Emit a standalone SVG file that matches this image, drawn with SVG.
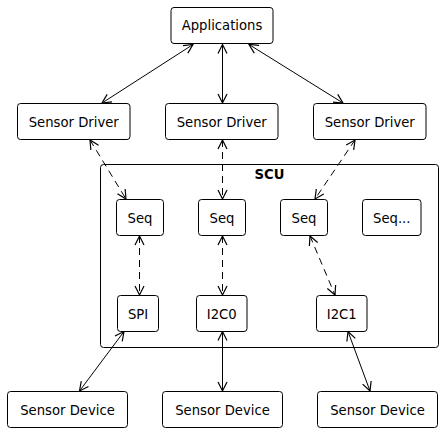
<svg xmlns="http://www.w3.org/2000/svg" width="443" height="432" viewBox="0 0 443 432">
<style>
rect{fill:#fff;stroke:#000;stroke-width:1}
text{font-family:"DejaVu Sans",sans-serif;font-size:13.2px;fill:#000;text-anchor:middle}
.b{font-weight:bold}
.c{stroke:#000;stroke-width:1;fill:none;marker-start:url(#a);marker-end:url(#a)}
.d{stroke-dasharray:7,5}
</style>
<defs>
<marker id="a" markerUnits="userSpaceOnUse" markerWidth="12" markerHeight="12" orient="auto-start-reverse" refX="0" refY="0" overflow="visible">
<path d="M-9,-4.5 L0,0 L-9,4.5" fill="none" stroke="#000" stroke-width="1.2"/>
</marker>
</defs>
<rect width="443" height="432" style="stroke:none"/>
<g id="scu"><rect x="100.5" y="164.5" width="338" height="183" rx="3"/><text class="b" x="269.5" y="179">SCU</text></g>
<g id="connectors">
<line class="c" x1="193" y1="44.5" x2="102" y2="103"/>
<line class="c" x1="222.5" y1="44.5" x2="222.5" y2="103"/>
<line class="c" x1="249" y1="44.5" x2="343" y2="103"/>
<line class="c d" x1="90" y1="140" x2="126" y2="199"/>
<line class="c d" x1="222.5" y1="140" x2="222.5" y2="199"/>
<line class="c d" x1="355" y1="140" x2="315" y2="199"/>
<line class="c d" x1="139.5" y1="236" x2="139.5" y2="295"/>
<line class="c d" x1="222.5" y1="236" x2="222.5" y2="295"/>
<line class="c d" x1="310" y1="236" x2="335" y2="295"/>
<line class="c" x1="124" y1="331.5" x2="79.5" y2="391"/>
<line class="c" x1="222.5" y1="331.5" x2="222.5" y2="391"/>
<line class="c" x1="348" y1="331.5" x2="370" y2="391"/>
</g>
<g id="applications"><rect x="171" y="7.5" width="102" height="36" rx="3"/><text x="222" y="30">Applications</text></g>
<g id="driver1"><rect x="17.5" y="103.5" width="112.5" height="36" rx="3"/><text x="73.75" y="126.5">Sensor Driver</text></g>
<g id="driver2"><rect x="165.5" y="103.5" width="112.5" height="36" rx="3"/><text x="221.75" y="126.5">Sensor Driver</text></g>
<g id="driver3"><rect x="313.5" y="103.5" width="112.5" height="36" rx="3"/><text x="369.75" y="126.5">Sensor Driver</text></g>
<g id="seq1"><rect x="116.5" y="199.5" width="47" height="36" rx="3"/><text x="140" y="222.5">Seq</text></g>
<g id="seq2"><rect x="198.5" y="199.5" width="47" height="36" rx="3"/><text x="222" y="222.5">Seq</text></g>
<g id="seq3"><rect x="280.5" y="199.5" width="47" height="36" rx="3"/><text x="304" y="222.5">Seq</text></g>
<g id="seq4"><rect x="362.5" y="199.5" width="58.5" height="36" rx="3"/><text x="391.75" y="222.5">Seq...</text></g>
<g id="spi"><rect x="117.5" y="295.5" width="41" height="36" rx="3"/><text x="138" y="318.5">SPI</text></g>
<g id="i2c0"><rect x="196.5" y="295.5" width="50.5" height="36" rx="3"/><text x="221.75" y="318.5">I2C0</text></g>
<g id="i2c1"><rect x="316.5" y="295.5" width="50.5" height="36" rx="3"/><text x="341.75" y="318.5">I2C1</text></g>
<g id="device1"><rect x="7.5" y="391.5" width="120" height="36" rx="3"/><text x="67.5" y="414.5">Sensor Device</text></g>
<g id="device2"><rect x="162.5" y="391.5" width="120" height="36" rx="3"/><text x="222.5" y="414.5">Sensor Device</text></g>
<g id="device3"><rect x="317.5" y="391.5" width="120" height="36" rx="3"/><text x="377.5" y="414.5">Sensor Device</text></g>
</svg>
